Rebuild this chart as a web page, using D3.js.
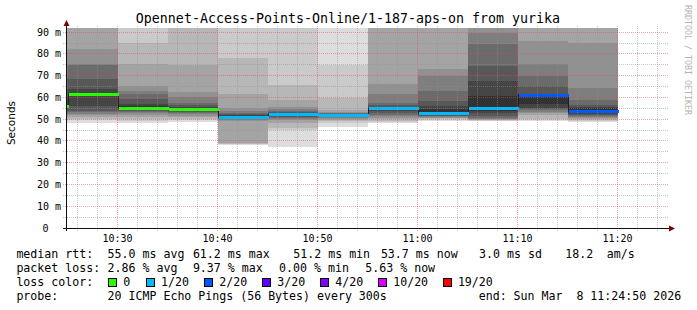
<!DOCTYPE html>
<html><head><meta charset="utf-8">
<script src="https://cdn.jsdelivr.net/npm/d3@7"></script>
<style>
body{margin:0;background:#fff}
svg{display:block}
text{font-family:"DejaVu Sans Mono",monospace;fill:#000}
</style>
</head><body>
<svg id="chart" width="697" height="310"></svg>
<script>
// ---- data ----
const titleText = "Opennet-Access-Points-Online/1-187-aps-on from yurika";
const axisStart = "10:24:50";
const axisEnd = "11:24:50";
const endTimes = ["10:25","10:30","10:35","10:40","10:45","10:50","10:55","11:00","11:05","11:10","11:15","11:20"];
const medians = [56.0, 61.4, 55.3, 54.6, 51.2, 52.3, 51.8, 55.0, 52.7, 55.3, 61.2, 53.7];
const lossPct = [0, 0, 0, 0, 2.5, 3.1, 2.2, 3.0, 2.96, 2.7, 9.37, 5.63];
const pings = [
  [48.1,49.0,49.8,50.6,51.4,52.2,53.0,53.8,54.8,55.6,56.4,60.0,64.0,69.0,75.0,82.0,93,96,101,110],
  [48.4,49.5,50.2,51.0,51.8,52.5,53.3,54.0,56.0,61.0,62.0,63.8,68.7,75.0,75.5,82.2,93,95,100,110],
  [48.4,49.3,50.0,51.0,52.0,53.0,53.5,54.0,54.5,55.0,56.0,57.0,59.2,61.5,63.0,65.3,75.3,85.2,95,104],
  [48.9,49.6,50.3,51.0,51.6,52.2,52.8,53.3,53.8,54.2,55.0,55.8,56.6,57.5,60.0,62.7,75.0,95,100,108],
  [38.3,38.4,38.5,39.2,49.2,49.6,50.0,50.4,50.7,51.0,51.4,51.8,52.3,53.0,54.0,55.3,61.5,78.3,96,104],
  [37.4,45.0,46.0,48.5,49.5,50.0,50.5,51.0,51.5,52.0,52.6,53.0,53.5,54.0,54.5,55.5,58.9,65.7,97,105],
  [46.6,48.2,49.0,49.5,50.0,50.5,51.0,51.4,51.7,51.9,52.1,52.3,52.5,52.8,53.0,53.5,54.3,59.6,74.9,98],
  [48.3,48.8,49.3,50.0,50.7,51.5,52.0,53.0,54.0,54.8,55.2,55.8,56.5,57.6,61.5,66.1,94,98,103,112],
  [49.2,49.6,50.0,50.4,50.8,51.1,51.4,51.7,52.0,52.4,54.5,56.1,58.4,63.0,69.9,73.0,95,99,104,115],
  [49.2,49.4,49.6,49.8,50.0,50.3,50.7,51.5,52.7,54.0,60.7,67.6,74.5,84.5,89.8,95,99,104,110,118],
  [49.2,49.6,50.0,52.0,53.0,53.5,54.2,54.8,55.3,56.9,61.5,61.8,65.3,69.9,75.3,86.0,95,99,105,112],
  [48.9,49.3,49.7,50.0,50.5,51.0,51.5,52.0,52.5,53.0,55.0,55.5,56.5,58.9,64.2,84.9,95,100,106,114]
];
const yMax = 91.95;
const yMajorTicks = [0,10,20,30,40,50,60,70,80,90];
const yMinorTicks = [5,15,25,35,45,55,65,75,85];
const lossLevels = [0, 1, 2, 3, 4, 10, 19];
const lossLabels = ["0","1/20","2/20","3/20","4/20","10/20","19/20"];
const lossColors = ["#26ff00","#00b8ff","#0059ff","#5e00ff","#7e00ff","#dd00ff","#ff0000"];
const legendLine1 = [["median rtt:",16.4],["55.0 ms avg",107.6],["61.2 ms max",192.9],["51.2 ms min",293.3],["53.7 ms now",380.9],["3.0 ms sd",479.1],["18.2",565.3],["am/s",606.7]];
const legendLine2 = [["packet loss:",16.4],["2.86 % avg",107.6],["9.37 % max",192.9],["0.00 % min",279.1],["5.63 % now",365.3]];
const legendLine4 = [["probe:",16.4],["20 ICMP Echo Pings (56 Bytes) every 300s",107.6],["end: Sun Mar  8 11:24:50 2026",478.7]];
const lossBoxX = [108,145.8,204,262,320,378,442.7];

// ---- scales ----
const svg = d3.select("#chart");
const pT = d3.timeParse("%H:%M:%S"), pM = d3.timeParse("%H:%M");
const x = d3.scaleTime().domain([pT(axisStart), pT(axisEnd)]).range([66, 666]);
const y = d3.scaleLinear().domain([0, yMax]).range([228, 28]);
const px = v => Math.floor(v) + 0.5;
const keepSpaces = s => s.replace(/ /g, "\u00a0");

const bars = endTimes.map((t, i) => {
  const end = pM(t);
  return {start: d3.timeMinute.offset(end, -5), end, p: pings[i], med: medians[i], loss: lossPct[i]};
});

svg.append("defs").append("clipPath").attr("id","plot")
  .append("rect").attr("x",67).attr("y",28).attr("width",600).attr("height",200);

// ---- smoke ----
const bands = [];
bars.forEach(b => {
  for (let k = 1; k <= 10; k++) {
    const c = Math.floor(190 / 10 * (10 - k)) + 50;
    bands.push({x0: x(b.start), x1: x(b.end), lo: b.p[k-1], hi: b.p[20-k], col: d3.rgb(c,c,c).formatHex()});
  }
});
const gPlot = svg.append("g").attr("clip-path","url(#plot)");
gPlot.selectAll("rect.smoke").data(bands).join("rect").attr("class","smoke")
  .attr("x", d => Math.round(d.x0)).attr("width", d => Math.round(d.x1) - Math.round(d.x0))
  .attr("y", d => Math.round(y(d.hi))).attr("height", d => Math.round(y(d.lo)) - Math.round(y(d.hi)))
  .attr("fill", d => d.col).attr("shape-rendering","crispEdges");

// ---- grid ----
const gGrid = svg.append("g").attr("fill","none").attr("stroke-dasharray","1,1");
const majorT = x.ticks(d3.timeMinute.every(10));
const minorT = x.ticks(d3.timeMinute.every(2)).filter(t => t.getMinutes() % 10 !== 0);
gGrid.selectAll("line.vmin").data(minorT).join("line")
  .attr("x1", d => px(x(d))).attr("x2", d => px(x(d))).attr("y1", 26).attr("y2", 231)
  .attr("stroke","#8f8f8f").attr("stroke-opacity",0.5);
gGrid.selectAll("line.hmin").data(yMinorTicks).join("line")
  .attr("y1", d => px(y(d))).attr("y2", d => px(y(d))).attr("x1", 63).attr("x2", 668)
  .attr("stroke","#8f8f8f").attr("stroke-opacity",0.5);
gGrid.selectAll("line.vmaj").data(majorT).join("line")
  .attr("x1", d => px(x(d))).attr("x2", d => px(x(d))).attr("y1", 26).attr("y2", 231)
  .attr("stroke","#de5050").attr("stroke-opacity",0.5);
gGrid.selectAll("line.hmaj").data(yMajorTicks.filter(d => d > 0)).join("line")
  .attr("y1", d => px(y(d))).attr("y2", d => px(y(d))).attr("x1", 63).attr("x2", 668)
  .attr("stroke","#de5050").attr("stroke-opacity",0.5);

// ---- median line + loss-coloured stripe ----
const medPts = bars.flatMap(b => [[x(b.start), b.med], [x(b.end), b.med]]);
gPlot.append("path").datum(medPts)
  .attr("d", d3.line().x(d => Math.round(d[0]) + 0.5).y(d => Math.floor(y(d[1])) + 0.5))
  .attr("fill","none").attr("stroke","#202020").attr("stroke-width",1);
const lossColor = pct => {
  const l = pct * 20 / 100;
  for (let i = 0; i < lossLevels.length; i++) if (l <= lossLevels[i]) return lossColors[i];
  return lossColors[lossColors.length - 1];
};
gPlot.selectAll("rect.med").data(bars).join("rect").attr("class","med")
  .attr("x", d => Math.round(x(d.start)) + 1).attr("width", d => Math.round(x(d.end)) - Math.round(x(d.start)))
  .attr("y", d => Math.round(y(d.med) - 1)).attr("height", 3)
  .attr("fill", d => lossColor(d.loss)).attr("shape-rendering","crispEdges");

// ---- axes ----
const gAx = svg.append("g");
gAx.append("line").attr("x1",66.5).attr("x2",66.5).attr("y1",231).attr("y2",24).attr("stroke","#101010");
gAx.append("line").attr("x1",63).attr("x2",670).attr("y1",228.5).attr("y2",228.5).attr("stroke","#101010");
gAx.append("path").attr("d","M63.5,26L69.5,26L66.5,20Z").attr("fill","#7f0000");
gAx.append("path").attr("d","M669,225.5L669,231.5L675,228.5Z").attr("fill","#7f0000");

svg.append("g").selectAll("text").data(yMajorTicks).join("text")
  .attr("x", d => d === 0 ? 48.5 : 61).attr("y", d => px(y(d)) + 3.5)
  .attr("text-anchor","end").attr("font-size","10px")
  .text(d => d === 0 ? "0" : keepSpaces(d + " m"));
svg.append("g").selectAll("text").data(majorT).join("text")
  .attr("x", d => px(x(d))).attr("y", 242).attr("text-anchor","middle").attr("font-size","10px")
  .text(d3.timeFormat("%H:%M"));

svg.append("text").attr("transform","translate(15,123) rotate(-90)")
  .attr("text-anchor","middle").attr("font-size","10.5px").style("font-family","'DejaVu Sans',sans-serif")
  .text("Seconds");
svg.append("text").attr("x",348).attr("y",23).attr("text-anchor","middle").attr("font-size","13.3px").text(titleText);
svg.append("text").attr("transform","translate(684.5,5) rotate(90)").attr("font-size","8.3px")
  .style("fill","#b4b4b4").text("RRDTOOL / TOBI OETIKER");

// ---- legend ----
const lg = svg.append("g").attr("font-size","11.6px");
const addLine = (items, yy) => lg.append("g").selectAll("text").data(items).join("text")
  .attr("x", d => d[1]).attr("y", yy).text(d => keepSpaces(d[0]));
addLine(legendLine1, 258);
addLine(legendLine2, 272);
addLine([["loss color:",16.4]], 286);
addLine(legendLine4, 300);
lg.append("g").selectAll("rect").data(lossColors).join("rect")
  .attr("x", (d,i) => Math.round(lossBoxX[i]) + 0.5).attr("y", 278.5).attr("width", 8).attr("height", 8)
  .attr("fill", d => d).attr("stroke","#000");
lg.append("g").selectAll("text").data(lossLabels).join("text")
  .attr("x", (d,i) => lossBoxX[i] + 15.2).attr("y", 286).text(d => d);
</script>
</body></html>
